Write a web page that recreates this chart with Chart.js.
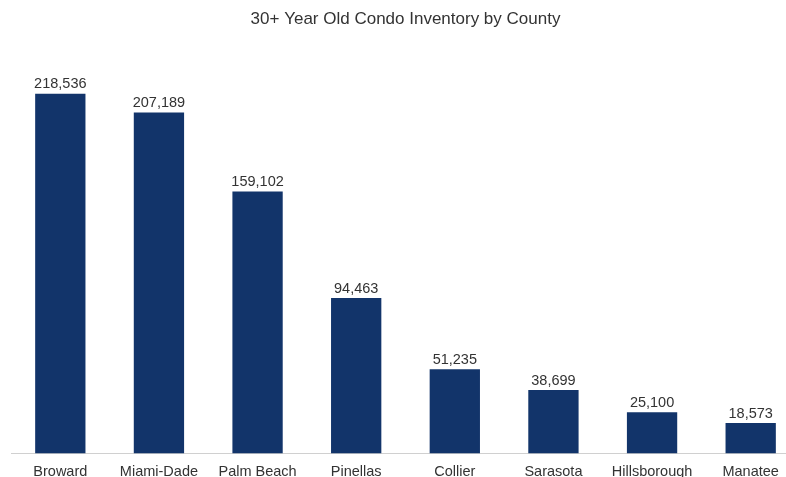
<!DOCTYPE html>
<html>
<head>
<meta charset="utf-8">
<script src="https://cdn.jsdelivr.net/npm/chart.js@4"></script>
<style>
  html, body { margin: 0; padding: 0; background: #fff; overflow: hidden; }
  #wrap { width: 812px; height: 483px; }
</style>
</head>
<body>
<div id="wrap"><canvas id="barChart"></canvas></div>
<script>
const counties = ["Broward", "Miami-Dade", "Palm Beach", "Pinellas", "Collier", "Sarasota", "Hillsborough", "Manatee"];
const condoCounts = [218536, 207189, 159102, 94463, 51235, 38699, 25100, 18573];

// draws the value above every bar
const valueLabels = {
    id: "valueLabels",
    afterDatasetsDraw(chart) {
        const ctx = chart.ctx;
        const meta = chart.getDatasetMeta(0);
        ctx.save();
        ctx.font = "14.5px 'Liberation Sans', Arial, sans-serif";
        ctx.fillStyle = "#333";
        ctx.textAlign = "center";
        ctx.textBaseline = "bottom";
        meta.data.forEach((bar, i) => {
            ctx.fillText(condoCounts[i].toLocaleString("en-US"), bar.x, bar.y - 2);
        });
        ctx.restore();
    }
};

window.addEventListener("load", () => {
    new Chart(document.getElementById("barChart"), {
        type: "bar",
        data: {
            labels: counties,
            datasets: [{
                data: condoCounts,
                backgroundColor: "#12346a",
                barPercentage: 1,
                categoryPercentage: 0.51
            }]
        },
        options: {
            responsive: true,
            maintainAspectRatio: false,
            animation: false,
            layout: { padding: { left: 11, right: 12, bottom: 0 } },
            plugins: {
                legend: { display: false },
                tooltip: { enabled: false },
                title: {
                    display: true,
                    text: "30+ Year Old Condo Inventory by County",
                    color: "#333",
                    font: { family: "'Liberation Sans', Arial, sans-serif", size: 17, weight: "normal" },
                    padding: { top: 9, bottom: 29 }
                }
            },
            scales: {
                x: {
                    grid: { display: false },
                    border: { display: true, color: "#d0d0d0", width: 1 },
                    ticks: {
                        color: "#333",
                        padding: 2,
                        maxRotation: 0,
                        autoSkip: false,
                        font: { family: "'Liberation Sans', Arial, sans-serif", size: 14.5 }
                    }
                },
                y: {
                    display: false,
                    min: 0,
                    max: 240000
                }
            }
        },
        plugins: [valueLabels]
    });
});
</script>
</body>
</html>
